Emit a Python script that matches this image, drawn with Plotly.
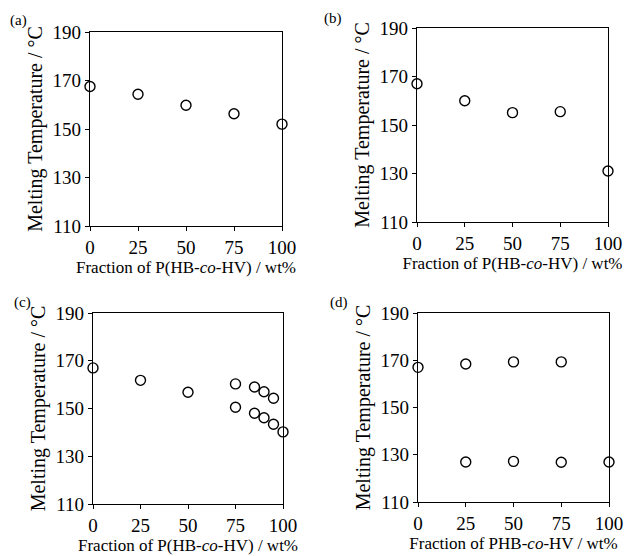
import plotly.graph_objects as go

# Panel data: fraction of P(HB-co-HV) (wt%) vs melting temperature (°C)
a_x = [0, 25, 50, 75, 100]
a_y = [167.5, 164.3, 159.8, 156.3, 152.0]

b_x = [0, 25, 50, 75, 100]
b_y = [167.0, 160.0, 155.1, 155.5, 131.0]

c_x = [0, 25, 50, 75, 75, 85, 85, 90, 90, 95, 95, 100]
c_y = [167.0, 161.8, 156.8, 160.3, 150.5, 159.0, 148.0, 157.0, 146.1, 154.3, 143.4, 140.2]

d_x = [0, 25, 25, 50, 50, 75, 75, 100]
d_y = [167.0, 168.4, 126.9, 169.3, 127.2, 169.3, 126.8, 126.9]

x_ticks = [0, 25, 50, 75, 100]
y_ticks = [110, 130, 150, 170, 190]
panel_labels = ["(a)", "(b)", "(c)", "(d)"]
x_titles = ["Fraction of P(HB-<i>co</i>-HV) / wt%",
            "Fraction of P(HB-<i>co</i>-HV) / wt%",
            "Fraction of P(HB-<i>co</i>-HV) / wt%",
            "Fraction of PHB-<i>co</i>-HV / wt%"]
y_title = "Melting Temperature / °C"

W, H = 626, 556
# pixel boxes (left, right, top, bottom) for each panel's plot area
boxes = [(90, 282, 32, 226), (417, 608, 28, 222), (93, 283, 313, 504), (418, 609, 313, 502)]
label_pos = [(8, 10), (322, 8), (12, 292), (328, 292)]

FONT = "Liberation Serif, Times New Roman, serif"
fig = go.Figure()
datasets = [(a_x, a_y), (b_x, b_y), (c_x, c_y), (d_x, d_y)]

for i, ((xs, ys), (l, r, t, b)) in enumerate(zip(datasets, boxes)):
    n = "" if i == 0 else str(i + 1)
    fig.add_trace(go.Scatter(
        x=xs, y=ys, mode="markers", xaxis="x" + n, yaxis="y" + n,
        marker=dict(symbol="circle-open", size=10, color="black", line=dict(width=1.4)),
        cliponaxis=False, showlegend=False))
    common = dict(showgrid=False, zeroline=False, showline=True, linecolor="black",
                  linewidth=1.3, mirror=True, ticks="outside", ticklen=4, tickwidth=1.2,
                  tickcolor="black", automargin=False,
                  tickfont=dict(family=FONT, size=19, color="black"))
    fig.update_layout(**{
        "xaxis" + n: dict(domain=[l / W, r / W], range=[0, 100], tickvals=x_ticks,
                          anchor="y" + n,
                          title=dict(text=x_titles[i], font=dict(family=FONT, size=17, color="black"),
                                     standoff=2),
                          **common),
        "yaxis" + n: dict(domain=[1 - b / H, 1 - t / H], range=[110, 190], tickvals=y_ticks,
                          anchor="x" + n,
                          title=dict(text=y_title, font=dict(family=FONT, size=20, color="black"),
                                     standoff=4),
                          **common),
    })
    lx, ly = label_pos[i]
    fig.add_annotation(text=panel_labels[i], x=lx / W, y=1 - ly / H, xref="paper", yref="paper",
                       xanchor="left", yanchor="top", showarrow=False,
                       font=dict(family=FONT, size=15, color="black"))

fig.update_layout(width=W, height=H, margin=dict(l=0, r=0, t=0, b=0),
                  paper_bgcolor="white", plot_bgcolor="white")
fig.write_html("out.html", config={"displayModeBar": False},
               post_script="document.body.style.margin='0';")
